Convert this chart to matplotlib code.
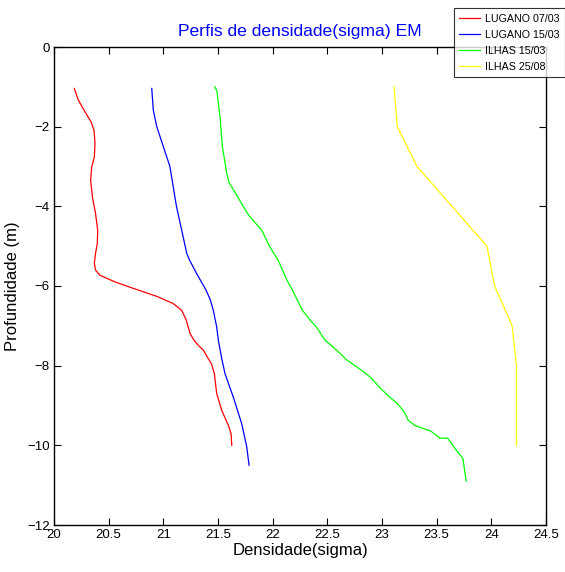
import matplotlib
matplotlib.use("Agg")
import matplotlib.pyplot as plt

plt.rcParams['font.family'] = ['Liberation Sans', 'DejaVu Sans']

# LUGANO 07/03
red_x = [20.186, 20.222, 20.284, 20.339, 20.366, 20.375, 20.369, 20.345, 20.335, 20.351,
         20.38, 20.40, 20.396, 20.38, 20.369, 20.38, 20.42, 20.51, 20.56, 20.726, 20.94,
         21.09, 21.168, 21.21, 21.244, 21.28, 21.32, 21.366, 21.41, 21.44, 21.467, 21.488,
         21.534, 21.595, 21.62, 21.626]
red_y = [-1.04, -1.33, -1.63, -1.88, -2.09, -2.41, -2.76, -3.01, -3.34, -3.76,
         -4.18, -4.60, -4.93, -5.18, -5.43, -5.60, -5.73, -5.84, -5.90, -6.06, -6.26,
         -6.44, -6.61, -6.86, -7.19, -7.36, -7.49, -7.61, -7.82, -7.95, -8.20, -8.70,
         -9.12, -9.50, -9.71, -10.0]

# LUGANO 15/03
blue_x = [20.894, 20.908, 20.94, 21.0, 21.06, 21.09, 21.12, 21.168, 21.214, 21.24, 21.305,
          21.39, 21.43, 21.457, 21.488, 21.503, 21.534, 21.564, 21.64, 21.717, 21.763, 21.784]
blue_y = [-1.04, -1.58, -2.0, -2.5, -3.0, -3.5, -4.0, -4.6, -5.18, -5.35, -5.69,
          -6.1, -6.35, -6.61, -7.03, -7.36, -7.82, -8.2, -8.79, -9.46, -10.04, -10.5]

# ILHAS 15/03
green_x = [21.47, 21.49, 21.52, 21.54, 21.58, 21.60, 21.66, 21.72, 21.78, 21.82, 21.90, 21.97,
           22.05, 22.13, 22.18, 22.27, 22.34, 22.40, 22.48, 22.58, 22.68, 22.78, 22.89, 22.98,
           23.07, 23.14, 23.20, 23.24, 23.30, 23.37, 23.45, 23.53, 23.60, 23.66, 23.74, 23.77]
green_y = [-1.0, -1.1, -1.8, -2.5, -3.17, -3.4, -3.67, -3.95, -4.22, -4.35, -4.6, -5.0,
           -5.35, -5.85, -6.1, -6.6, -6.85, -7.03, -7.36, -7.6, -7.86, -8.05, -8.28, -8.55,
           -8.79, -8.95, -9.15, -9.37, -9.5, -9.57, -9.65, -9.82, -9.82, -10.05, -10.33, -10.9]

# ILHAS 25/08
yellow_x = [23.11, 23.14, 23.32, 23.64, 23.96, 24.03, 24.19, 24.23, 24.23, 24.23]
yellow_y = [-1.0, -2.0, -3.0, -4.0, -5.0, -6.0, -7.0, -8.0, -9.0, -10.0]

labels = ['LUGANO 07/03', 'LUGANO 15/03', 'ILHAS 15/03', 'ILHAS 25/08']
xticks = [20, 20.5, 21, 21.5, 22, 22.5, 23, 23.5, 24, 24.5]
xticklabels = ['20', '20.5', '21', '21.5', '22', '22.5', '23', '23.5', '24', '24.5']
yticks = [0, -2, -4, -6, -8, -10, -12]

fig = plt.figure(figsize=(5.65, 5.72), dpi=100)
ax = fig.add_axes([54/565, 1-525/572, 492/565, 478/572])

lw = 0.9
l1, = ax.plot(red_x, red_y, color='#ff0000', lw=lw)
l2, = ax.plot(blue_x, blue_y, color='#0000ff', lw=lw)
l3, = ax.plot(green_x, green_y, color='#00ff00', lw=lw)
l4, = ax.plot(yellow_x, yellow_y, color='#ffff00', lw=lw)

ax.set_xlim(20, 24.5)
ax.set_ylim(-12, 0)
ax.set_xticks(xticks)
ax.set_xticklabels(xticklabels)
ax.set_yticks(yticks)
ax.tick_params(direction='in', top=True, right=True, labelsize=9.5, length=5, width=0.8, pad=3)
for s in ax.spines.values():
    s.set_linewidth(1.0)

ax.set_title('Perfis de densidade(sigma) EM', color='#0000ff', fontsize=12.6, pad=8)
ax.set_xlabel('Densidade(sigma)', fontsize=12, labelpad=1)
ax.set_ylabel('Profundidade (m)', fontsize=12, labelpad=5)

leg = fig.legend([l1, l2, l3, l4], labels, loc='upper right',
                 bbox_to_anchor=(565/565, 1-8/572), bbox_transform=fig.transFigure,
                 fontsize=7.7, frameon=True, fancybox=False, borderpad=0.55,
                 labelspacing=0.55, handlelength=1.9, handletextpad=0.45, borderaxespad=0)
leg.get_frame().set_edgecolor('black')
leg.get_frame().set_linewidth(0.8)

fig.savefig('out.png', dpi=100)
